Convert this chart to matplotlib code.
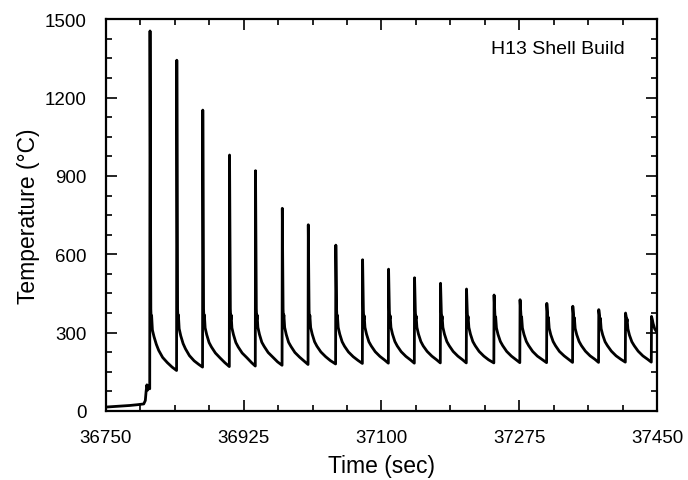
import matplotlib.pyplot as plt
from matplotlib.ticker import MultipleLocator

# Термопара при наплавке оболочки из H13: время (с) и температура (°C), снято с графика
# участок до начала наплавки
pre_time = [36750, 36760, 36770, 36780, 36790, 36798, 36800, 36801, 36802, 36803, 36804, 36805.6]
pre_temp = [15, 17, 19, 21, 24, 27, 40, 75, 100, 80, 95, 85]

# циклы: пик, провал, остывание до следующего прохода
cycle_time = [
    36806, 36807, 36807.5, 36808, 36809, 36811, 36814, 36817, 36822, 36828, 36834, 36839.7,
    36840, 36841, 36841.5, 36842, 36843, 36845, 36848, 36851, 36856, 36862, 36868, 36872.7,
    36873, 36874, 36874.5, 36875, 36876, 36878, 36881, 36884, 36889, 36895, 36901, 36906.7,
    36907, 36908, 36908.5, 36909, 36910, 36912, 36915, 36918, 36923, 36929, 36935, 36939.7,
    36940, 36941, 36941.5, 36942, 36943, 36945, 36948, 36951, 36956, 36962, 36968, 36973.7,
    36974, 36975, 36975.5, 36976, 36977, 36979, 36982, 36985, 36990, 36996, 37002, 37006.7,
    37007, 37008, 37008.5, 37009, 37010, 37012, 37015, 37018, 37023, 37029, 37035, 37041.7,
    37042, 37043, 37043.5, 37044, 37045, 37047, 37050, 37053, 37058, 37064, 37070, 37075.7,
    37076, 37077, 37077.5, 37078, 37079, 37081, 37084, 37087, 37092, 37098, 37104, 37108.7,
    37109, 37110, 37110.5, 37111, 37112, 37114, 37117, 37120, 37125, 37131, 37137, 37141.7,
    37142, 37143, 37143.5, 37144, 37145, 37147, 37150, 37153, 37158, 37164, 37170, 37174.7,
    37175, 37176, 37176.5, 37177, 37178, 37180, 37183, 37186, 37191, 37197, 37203, 37207.7,
    37208, 37209, 37209.5, 37210, 37211, 37213, 37216, 37219, 37224, 37230, 37236, 37242.7,
    37243, 37244, 37244.5, 37245, 37246, 37248, 37251, 37254, 37259, 37265, 37271, 37275.7,
    37276, 37277, 37277.5, 37278, 37279, 37281, 37284, 37287, 37292, 37298, 37304, 37309.7,
    37310, 37311, 37311.5, 37312, 37313, 37315, 37318, 37321, 37326, 37332, 37338, 37342.7,
    37343, 37344, 37344.5, 37345, 37346, 37348, 37351, 37354, 37359, 37365, 37371, 37375.7,
    37376, 37377, 37377.5, 37378, 37379, 37381, 37384, 37387, 37392, 37398, 37404, 37409.7,
    37410, 37411, 37411.5, 37412, 37413, 37415, 37418, 37421, 37426, 37432, 37438, 37442.7,
    37443, 37444, 37445, 37447, 37450,
]
cycle_temp = [
    1455, 390, 345, 365, 310, 285, 255, 232, 205, 185, 168, 155,
    1343, 390, 350, 368, 315, 288, 258, 238, 212, 192, 178, 168,
    1152, 390, 350, 368, 318, 292, 262, 245, 222, 203, 185, 170,
    980, 392, 350, 368, 318, 292, 262, 245, 222, 204, 185, 172,
    920, 392, 350, 368, 320, 293, 263, 247, 224, 206, 188, 175,
    776, 390, 350, 368, 320, 293, 263, 247, 224, 206, 190, 178,
    713, 388, 350, 366, 320, 294, 265, 248, 226, 208, 193, 180,
    635, 386, 350, 366, 320, 294, 265, 248, 226, 208, 194, 182,
    579, 385, 350, 365, 320, 294, 265, 249, 227, 209, 195, 183,
    543, 384, 352, 365, 320, 294, 266, 249, 227, 209, 195, 183,
    510, 382, 352, 364, 320, 294, 266, 249, 228, 210, 196, 184,
    489, 378, 350, 363, 320, 294, 266, 250, 228, 210, 196, 184,
    467, 376, 350, 362, 320, 294, 266, 250, 228, 210, 196, 184,
    444, 372, 348, 360, 318, 293, 266, 250, 228, 210, 196, 185,
    426, 370, 348, 360, 318, 293, 266, 250, 228, 210, 197, 185,
    412, 368, 346, 358, 317, 292, 266, 250, 228, 211, 197, 186,
    401, 365, 345, 357, 316, 292, 266, 250, 229, 211, 198, 186,
    388, 362, 344, 355, 315, 291, 265, 250, 229, 211, 198, 187,
    375, 358, 342, 352, 314, 290, 265, 250, 229, 211, 198, 187,
    362, 350, 335, 315, 300,
]

x_ticks = [36750, 36925, 37100, 37275, 37450]
y_ticks = [0, 300, 600, 900, 1200, 1500]

plt.rcParams['font.family'] = ['Liberation Sans', 'DejaVu Sans']

fig = plt.figure(figsize=(6.88, 4.81), dpi=100)
ax = fig.add_axes([0.154, 0.1435, 0.801, 0.8145])

ax.plot(pre_time + cycle_time, pre_temp + cycle_temp, color='black', linewidth=2.0)

ax.set_xlim(36750, 37450)
ax.set_ylim(0, 1500)
ax.set_xticks(x_ticks)
ax.set_yticks(y_ticks)
ax.xaxis.set_minor_locator(MultipleLocator(43.75))
ax.yaxis.set_minor_locator(MultipleLocator(75))
ax.tick_params(which='both', direction='in', top=True, right=True, labelsize=13.5, width=1.2)
ax.tick_params(which='major', length=8)
ax.tick_params(which='minor', length=4.5)
ax.tick_params(axis='x', pad=13)
ax.tick_params(axis='y', pad=14)
for s in ax.spines.values():
    s.set_linewidth(1.6)

ax.set_xlabel("Time (sec)", fontsize=16.5, labelpad=6)
ax.set_ylabel("Temperature (°C)", fontsize=16.5, labelpad=3)
ax.text(0.942, 0.925, "H13 Shell Build", transform=ax.transAxes, fontsize=14, ha='right', va='center')

fig.savefig("out.png", dpi=100)
